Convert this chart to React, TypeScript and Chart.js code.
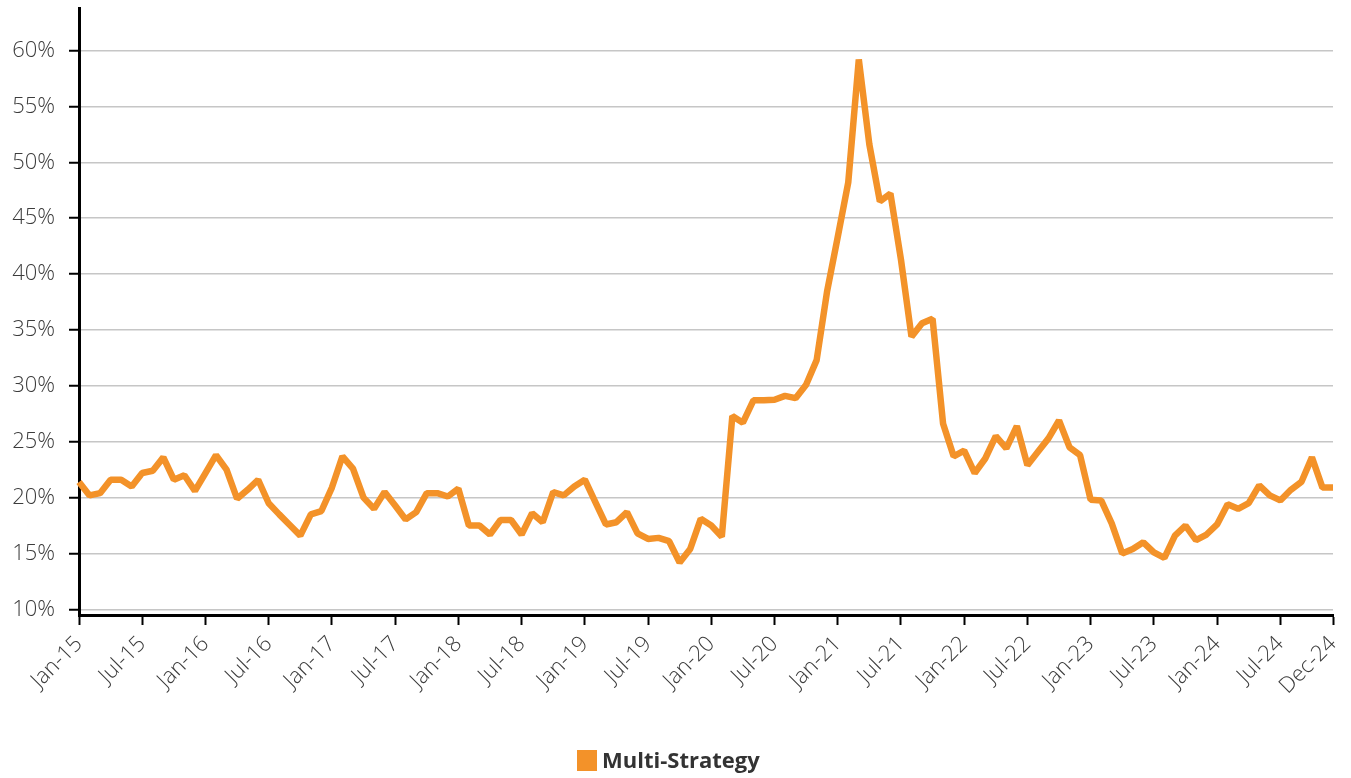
import React, { useEffect, useRef } from "react";
import { Chart, registerables } from "chart.js";

Chart.register(...registerables);

const monthNames = ["Jan", "Feb", "Mar", "Apr", "May", "Jun", "Jul", "Aug", "Sep", "Oct", "Nov", "Dec"];
const years = ["15", "16", "17", "18", "19", "20", "21", "22", "23", "24"];
const categories: string[] = years.flatMap((y) => monthNames.map((m) => `${m}-${y}`));

const multiStrategy: number[] = [
  21.4, 20.2, 20.4, 21.6, 21.6, 21.0, 22.2, 22.4, 23.6, 21.6, 22.0, 20.6,
  22.2, 23.8, 22.5, 19.9, 20.7, 21.6, 19.5, 18.5, 17.55, 16.6, 18.5, 18.8,
  20.9, 23.7, 22.6, 20.0, 19.0, 20.5, 19.3, 18.05, 18.7, 20.4, 20.4, 20.1,
  20.8, 17.5, 17.5, 16.7, 18.0, 18.0, 16.7, 18.6, 17.8, 20.5, 20.2, 21.0,
  21.6, 19.6, 17.6, 17.8, 18.7, 16.8, 16.3, 16.4, 16.1, 14.2, 15.4, 18.1,
  17.5, 16.5, 27.3, 26.7, 28.7, 28.7, 28.75, 29.1, 28.9, 30.1, 32.3, 38.5,
  43.3, 48.2, 59.2, 51.6, 46.5, 47.2, 41.3, 34.4, 35.6, 36.0, 26.6, 23.7,
  24.2, 22.2, 23.5, 25.5, 24.4, 26.4, 22.9, 24.1, 25.3, 26.9, 24.5, 23.8,
  19.8, 19.75, 17.7, 15.0, 15.4, 16.0, 15.1, 14.6, 16.6, 17.5, 16.2, 16.7,
  17.6, 19.4, 19.0, 19.5, 21.1, 20.2, 19.75, 20.7, 21.4, 23.6, 20.9, 20.9,
];

const yTickValues: number[] = [10, 12.5, 15, 17.5, 20, 22.5, 25, 27.5, 30, 32.5, 35, 37.5, 40, 42.5, 45, 47.5, 50, 52.5, 55, 57.5, 60, 62.5];

const seriesName = "Multi-Strategy";
const lineColor = "#F39229";
const fontFamily = "'Open Sans', 'Noto Sans', sans-serif";

const customLegend = {
  id: "customLegend",
  afterDraw(chart: any) {
    const { ctx, width, height } = chart;
    const ds = chart.data.datasets[0];
    const box = 20;
    const gap = 5;
    ctx.save();
    ctx.font = `bold 22px ${fontFamily}`;
    const textW = ctx.measureText(ds.label).width;
    const total = box + gap + textW;
    const startX = Math.round(width / 2 - 7.5 - total / 2);
    const boxTop = height - 28;
    ctx.fillStyle = ds.borderColor;
    ctx.fillRect(startX, boxTop, box, box + 1);
    ctx.fillStyle = "#333333";
    ctx.textBaseline = "alphabetic";
    ctx.textAlign = "left";
    ctx.fillText(ds.label, startX + box + gap, boxTop + 18);
    ctx.restore();
  },
};

export default function App() {
  const canvasRef = useRef<HTMLCanvasElement | null>(null);

  useEffect(() => {
    if (!canvasRef.current) return;
    const lastIdx = categories.length - 1;
    const chart = new Chart(canvasRef.current, {
      type: "line",
      data: {
        labels: categories,
        datasets: [
          {
            label: seriesName,
            data: multiStrategy,
            borderColor: lineColor,
            backgroundColor: lineColor,
            borderWidth: 6.5,
            borderJoinStyle: "bevel",
            pointRadius: 0,
            tension: 0,
            fill: false,
          },
        ],
      },
      plugins: [customLegend],
      options: {
        animation: false,
        responsive: true,
        maintainAspectRatio: false,
        layout: { padding: { top: 8, right: 18, left: 0, bottom: 42 } },
        plugins: {
          tooltip: { enabled: false },
          legend: { display: false },
        },
        scales: {
          x: {
            type: "category",
            offset: false,
            afterBuildTicks: (scale: any) => {
              scale.ticks = scale.ticks.filter((t: any) => t.value % 6 === 0 || t.value === lastIdx);
            },
            afterFit: (scale: any) => {
              scale.height = 121;
              scale.paddingLeft = 0;
              scale.paddingRight = 0;
            },
            ticks: {
              autoSkip: false,
              maxRotation: 45,
              minRotation: 45,
              padding: 6,
              color: "#3c3c3c",
              font: { family: fontFamily, size: 22, weight: 300 },
            },
            grid: {
              drawOnChartArea: false,
              drawTicks: true,
              tickLength: 10,
              tickColor: "#000000",
              tickWidth: 2,
              offset: false,
            },
            border: { display: true, color: "#000000", width: 3 },
          },
          y: {
            type: "linear",
            min: 9.5,
            max: 63.8,
            afterBuildTicks: (scale: any) => {
              scale.ticks = yTickValues.map((v) => ({ value: v }));
            },
            afterFit: (scale: any) => {
              scale.width = 79;
              scale.paddingTop = 0;
              scale.paddingBottom = 0;
            },
            ticks: {
              padding: 14,
              color: "#3c3c3c",
              font: { family: fontFamily, size: 22, weight: 300 },
              callback: (v: any) => (Number(v) % 5 === 0 ? `${v}%` : ""),
            },
            grid: {
              drawOnChartArea: true,
              drawTicks: true,
              tickLength: 10,
              lineWidth: 1.5,
              tickWidth: 2,
              color: (ctx: any) => (ctx.tick && ctx.tick.value % 5 === 0 ? "#c6c6c6" : "#e4e4e4"),
              tickColor: (ctx: any) => (ctx.tick && ctx.tick.value % 5 === 0 ? "#000000" : "rgba(0,0,0,0)"),
            },
            border: { display: true, color: "#000000", width: 3 },
          },
        },
      },
    });
    return () => chart.destroy();
  }, []);

  return (
    <div style={{ position: "fixed", left: 0, top: 0, width: "1351px", height: "778px", background: "#ffffff" }}>
      <canvas ref={canvasRef} />
    </div>
  );
}
